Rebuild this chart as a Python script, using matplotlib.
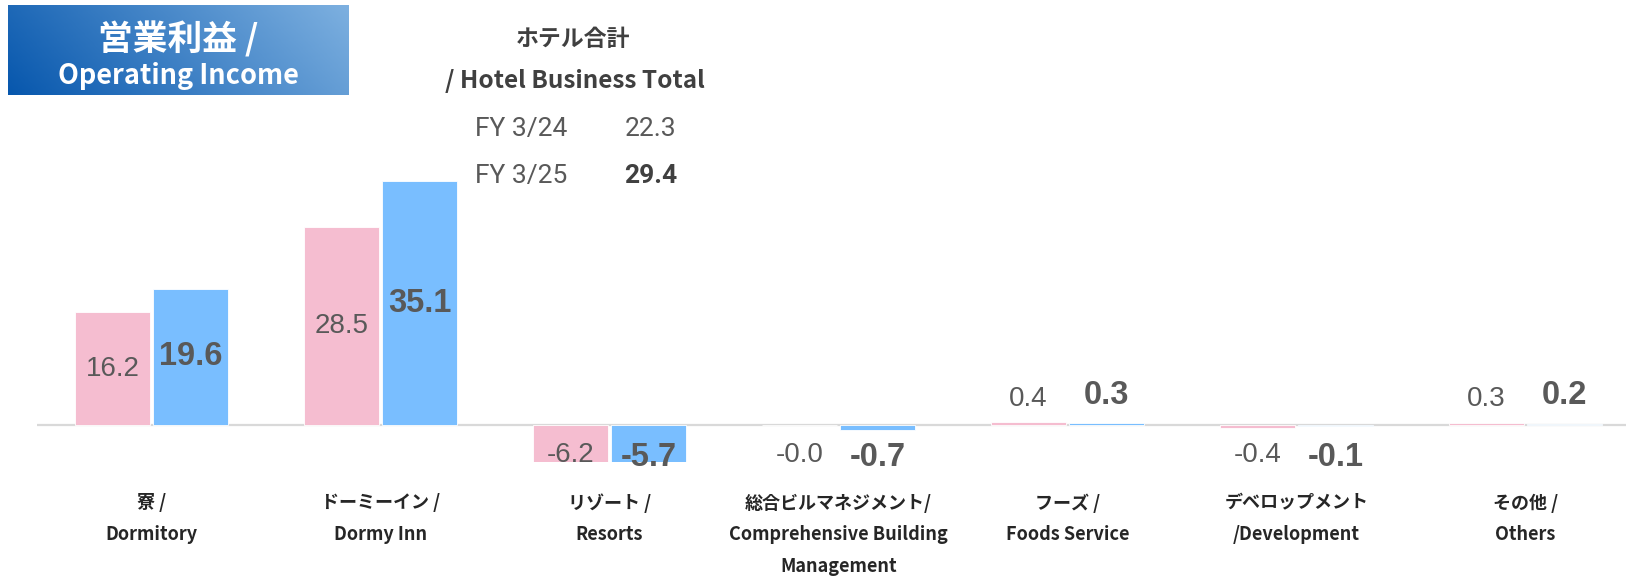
import numpy as np
import matplotlib
matplotlib.use("Agg")
import matplotlib.pyplot as plt
from matplotlib.colors import LinearSegmentedColormap
from matplotlib.transforms import Bbox, TransformedBbox

# ---- data ----
categories = ["寮 /\nDormitory",
              "ドーミーイン /\nDormy Inn",
              "リゾート /\nResorts",
              "総合ビルマネジメント/\nComprehensive Building\nManagement",
              "フーズ /\nFoods Service",
              "デベロップメント\n/Development",
              "その他 /\nOthers"]
fy24 = [16.2, 28.5, -6.2, -0.04, 0.4, -0.4, 0.3]
fy25 = [19.6, 35.1, -5.7, -0.7, 0.3, -0.1, 0.2]
axis_min = -5.3  # value axis minimum in the original chart (bars are cut there)
hotel_total_labels = ["FY 3/24", "FY 3/25"]
hotel_total_values = [22.3, 29.4]

PINK = "#F5BDD0"
BLUE = "#79BEFF"
GRAY = "#595959"
CJK = ["Noto Sans CJK JP", "DejaVu Sans"]

W, H, DPI = 1626, 576, 100
fig = plt.figure(figsize=(W / DPI, H / DPI), dpi=DPI)

# axes geometry in pixels
left_px = 37
step_px = 229.0
base_px_from_top = 425
unit_px = 6.95
ax = fig.add_axes([left_px / W, 0, 1 - left_px / W, 1])
xmax = -0.5 + (W - left_px) / step_px
ax.set_xlim(-0.5, xmax)
ymax = base_px_from_top / unit_px
ax.set_ylim(-(H - base_px_from_top) / unit_px, ymax)
ax.axis("off")

x = np.arange(len(categories))
bw = 0.3275
off = 0.171
ax.axhline(0, color="#D9D9D9", lw=1.6, zorder=1)
clip = TransformedBbox(Bbox([[-0.5, axis_min], [xmax, ymax]]), ax.transData)
b1 = ax.bar(x - off, fy24, bw, color=PINK, edgecolor="white", lw=0.6, zorder=2)
b2 = ax.bar(x + off, fy25, bw, color=BLUE, edgecolor="white", lw=0.6, zorder=2)
for p in list(b1) + list(b2):
    p.set_clip_box(clip)

PX2PT = 72 / DPI


def label(xv, v, bold):
    s = f"{v:.1f}"
    size = 23.5 if bold else 20
    weight = "bold" if bold else "normal"
    if v >= 2:
        ax.text(xv, v / 2, s, ha="center", va="center", fontsize=size,
                fontweight=weight, color=GRAY, family="Liberation Sans", zorder=3)
    else:
        d = (29 if bold else 26) if v > 0 else -(32 if bold else 30)
        ax.annotate(s, (xv, 0), xytext=(0, d * PX2PT), textcoords="offset points",
                    ha="center", va="center", fontsize=size, fontweight=weight,
                    color=GRAY, family="Liberation Sans", zorder=3)


for i in range(len(categories)):
    label(x[i] - off, fy24[i], False)
    label(x[i] + off, fy25[i], True)

# category labels
line_y = [503, 535, 566]
for i, cat in enumerate(categories):
    for j, line in enumerate(cat.split("\n")):
        fig.text((left_px + (x[i] + 0.5) * step_px) / W, 1 - line_y[j] / H, line,
                 ha="center", va="center", fontsize=13, fontweight="bold",
                 color="#262626", family=CJK)

# title box with gradient
bx0, bx1, by0, by1 = 8, 348, 5, 95
tax = fig.add_axes([bx0 / W, 1 - by1 / H, (bx1 - bx0) / W, (by1 - by0) / H])
gx, gy = np.meshgrid(np.linspace(0, 1, 200), np.linspace(0, 1, 60))
grad = 0.8 * gx + 0.2 * (1 - gy)
cmap = LinearSegmentedColormap.from_list("g", ["#0757AD", "#7DB0E0"])
tax.imshow(grad, cmap=cmap, aspect="auto", extent=[0, 1, 0, 1], origin="upper")
tax.set_xlim(0, 1); tax.set_ylim(0, 1); tax.axis("off")
fig.text(178 / W, 1 - 39 / H, "営業利益 /", ha="center", va="center",
         fontsize=25, color="white", family=CJK, fontweight="bold")
fig.text(178 / W, 1 - 76 / H, "Operating Income", ha="center", va="center",
         fontsize=19.5, color="white", family=CJK, fontweight="bold")

# hotel business total annotation
fig.text(573 / W, 1 - 39 / H, "ホテル合計", ha="center", va="center",
         fontsize=16.5, fontweight="bold", color="#404040", family=CJK)
fig.text(575 / W, 1 - 81 / H, "/ Hotel Business Total", ha="center", va="center",
         fontsize=17.5, fontweight="bold", color="#404040", family=CJK)
ys = [129, 176]
for k in range(2):
    fig.text(521 / W, 1 - ys[k] / H, hotel_total_labels[k], ha="center", va="center",
             fontsize=19, color=GRAY, family="Roboto")
    fig.text(651 / W, 1 - ys[k] / H, f"{hotel_total_values[k]:.1f}", ha="center",
             va="center", fontsize=19, color="#404040" if k else GRAY, family="Roboto",
             fontweight="bold" if k else "normal")

fig.savefig("out.png", dpi=DPI)
